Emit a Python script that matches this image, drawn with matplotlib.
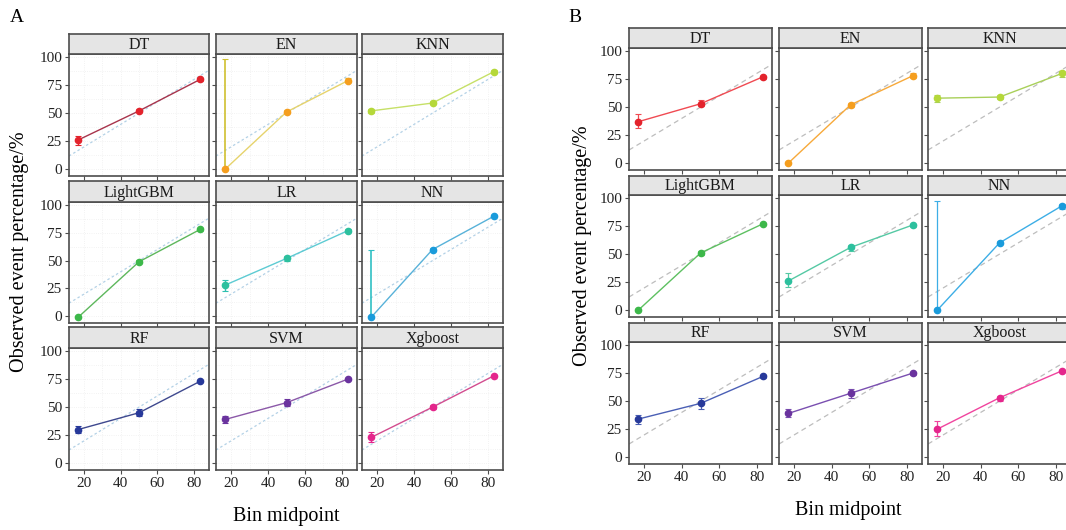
import matplotlib
matplotlib.use("Agg")
import matplotlib.pyplot as plt
import numpy as np

plt.rcParams['font.family'] = ['Liberation Serif', 'DejaVu Serif']

models = ['DT', 'EN', 'KNN', 'LightGBM', 'LR', 'NN', 'RF', 'SVM', 'Xgboost']
bins = [16.7, 50.0, 83.3]

# panel A: observed %, lower and upper error limits
obs_a = [[26, 52, 80], [0, 51, 79], [52, 59, 87],
         [-1, 49, 78], [28, 52, 77], [-1, 60, 90],
         [30, 45, 73], [39, 54, 75], [23, 50, 78]]
lo_a = [[22, 51, 79], [0, 50, 78], [50, 58, 86],
        [-1, 48, 77], [23, 50, 76], [-1, 59, 89],
        [27, 42, 72], [36, 51, 74], [19, 48, 77]]
hi_a = [[30, 54, 81], [98, 53, 81], [54, 61, 88],
        [0, 51, 79], [33, 54, 78], [60, 61, 91],
        [33, 48, 74], [42, 57, 76], [28, 52, 79]]

# panel B
obs_b = [[37, 53, 77], [0, 52, 78], [58, 59, 80],
         [0, 51, 77], [26, 56, 76], [0, 60, 93],
         [34, 48, 72], [39, 57, 75], [25, 53, 77]]
lo_b = [[31, 51, 75], [0, 50, 76], [55, 57, 77],
        [-1, 49, 76], [21, 53, 74], [0, 59, 90],
        [30, 43, 71], [36, 53, 73], [19, 50, 76]]
hi_b = [[44, 56, 78], [0, 54, 80], [61, 61, 82],
        [0, 53, 78], [33, 58, 77], [97, 62, 95],
        [38, 53, 73], [43, 61, 76], [32, 55, 78]]

pt_colors = ['#E3232C', '#F59E1E', '#B5D83A', '#3DB84A', '#2DC09E',
             '#1A9BDB', '#27399A', '#6A339E', '#E4268C']
line_a = ['#A8344C', '#E6D36C', '#C6E067', '#5DB75C', '#5DCBD3',
          '#58B2D9', '#3E488E', '#8B58A8', '#D24C8F']
err_a = ['#E3232C', '#CFC030', '#B5D83A', '#3DB84A', '#2DC0B0',
         '#30C0C4', '#27399A', '#6A339E', '#E4268C']
line_b = ['#F04A52', '#F7A93A', '#A9D05A', '#5DC061', '#55C9A4',
          '#3DAEE6', '#4A5FB5', '#7A4FB0', '#F0449E']

W, H = 1066, 530
fig = plt.figure(figsize=(W / 100, H / 100), dpi=100)


def box(x0, y0, x1, y1):
    return [x0 / W, 1 - y1 / H, (x1 - x0) / W, (y1 - y0) / H]


edge = '#4D4D4D'


def panel(cols, rows, obs, lo, hi, pcol, lcol, ecol, style):
    for i, m in enumerate(models):
        r, c = divmod(i, 3)
        (x0, x1) = cols[c]
        (s0, p0, p1) = rows[r]
        ax = fig.add_axes(box(x0, p0, x1, p1))
        ax.set_xlim(11.8, 88.2)
        ax.set_ylim(-6, 102.7)
        xx = np.array(ax.get_xlim())
        if style == 'A':
            for gx in np.arange(10, 91, 10):
                ax.axvline(gx, color='#EEEEEE', lw=0.6, ls=':', zorder=0)
            for gy in np.arange(0, 101, 12.5):
                ax.axhline(gy, color='#EEEEEE', lw=0.6, ls=':', zorder=0)
            ax.plot(xx, xx, color='#B3D1E6', lw=0.9, ls=(0, (2, 2)), zorder=1)
            lw_err = 1.2 if m in ('EN', 'NN') else 1.0
        else:
            ax.plot(xx, xx, color='#BDBDBD', lw=0.9, ls=(0, (4, 3)), zorder=1)
            lw_err = 0.9
        y = np.array(obs[i])
        yerr = [y - np.array(lo[i]), np.array(hi[i]) - y]
        ax.errorbar(bins, y, yerr=yerr, fmt='none', ecolor=ecol[i],
                    elinewidth=lw_err, capsize=2, capthick=0.8, zorder=2)
        ax.plot(bins, y, color=lcol[i], lw=1.0, zorder=3)
        ax.plot(bins, y, 'o', color=pcol[i], ms=4.5, zorder=4)
        ax.set_xticks([20, 40, 60, 80])
        ax.set_yticks([0, 25, 50, 75, 100])
        ax.tick_params(direction='out', length=3, width=0.8, color=edge,
                       labelsize=11, pad=2, labelcolor='#222222')
        if c != 0:
            ax.set_yticklabels([])
        if r != 2:
            ax.set_xticklabels([])
        for sp in ax.spines.values():
            sp.set_color(edge)
            sp.set_linewidth(1.2)
        sax = fig.add_axes(box(x0, s0, x1, p0))
        sax.set_xticks([])
        sax.set_yticks([])
        sax.set_facecolor('#E5E5E5')
        for sp in sax.spines.values():
            sp.set_color(edge)
            sp.set_linewidth(1.2)
        sax.text(0.5, 0.45, m, ha='center', va='center', fontsize=11.5,
                 color='#1A1A1A', transform=sax.transAxes)


cols_a = [(69, 209), (216, 357), (362, 503)]
rows_a = [(34, 54, 176), (181, 202, 323), (327, 348, 470)]
cols_b = [(629, 772), (779, 922), (928, 1071)]
rows_b = [(28, 48, 170), (176, 195, 317), (323, 342, 464)]

panel(cols_a, rows_a, obs_a, lo_a, hi_a, pt_colors, line_a, err_a, 'A')
panel(cols_b, rows_b, obs_b, lo_b, hi_b, pt_colors, line_b, line_b, 'B')

fig.text(10 / W, 1 - 17 / H, 'A', fontsize=14, ha='left', va='center')
fig.text(568 / W, 1 - 17 / H, 'B', fontsize=14, ha='left', va='center')
fig.text(20 / W, 1 - 252 / H, 'Observed event percentage/%', fontsize=14.5,
         rotation=90, ha='center', va='center')
fig.text(582 / W, 1 - 246 / H, 'Observed event percentage/%', fontsize=14.5,
         rotation=90, ha='center', va='center')
fig.text(286 / W, 1 - 516 / H, 'Bin midpoint', fontsize=14.5,
         ha='center', va='center')
fig.text(848 / W, 1 - 510 / H, 'Bin midpoint', fontsize=14.5,
         ha='center', va='center')

fig.savefig('out.png', dpi=100)
